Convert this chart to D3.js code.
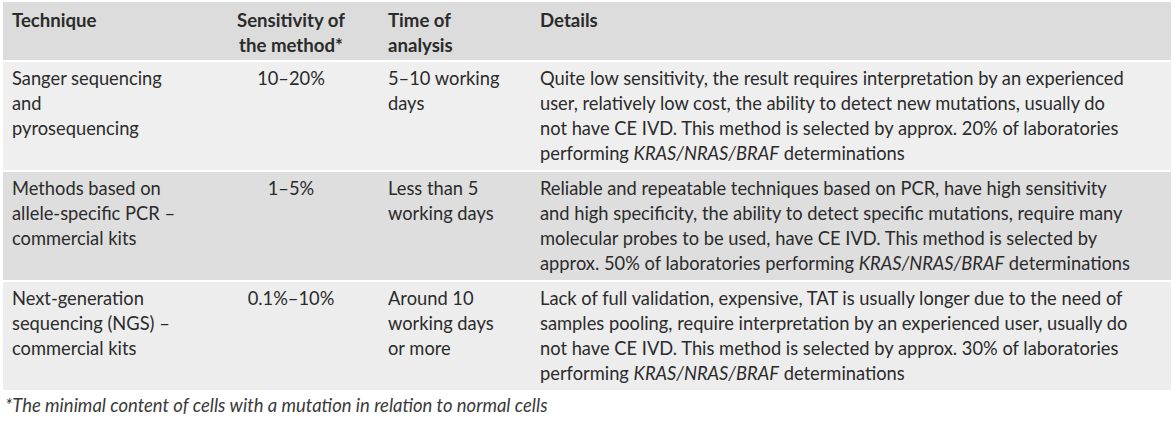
<!DOCTYPE html>
<html>
<head>
<meta charset="utf-8">
<script src="https://cdn.jsdelivr.net/npm/d3@7"></script>
<style>
body { margin: 0; background: #fff; }
text { white-space: pre; }
</style>
</head>
<body>
<div id="chart"></div>
<script>
// table content, one array per column (line breaks as in the source)
var headers = [["Technique"], ["Sensitivity of", "the method*"], ["Time of", "analysis"], ["Details"]];
var techniques = [
	["Sanger sequencing", "and", "pyrosequencing"],
	["Methods based on", "allele-specific PCR –", "commercial kits"],
	["Next-generation", "sequencing (NGS) –", "commercial kits"]
];
var sensitivity = [["10–20%"], ["1–5%"], ["0.1%–10%"]];
var timeOfAnalysis = [
	["5–10 working", "days"],
	["Less than 5", "working days"],
	["Around 10", "working days", "or more"]
];
// _..._ marks italic text
var details = [
	["Quite low sensitivity, the result requires interpretation by an experienced",
	 "user, relatively low cost, the ability to detect new mutations, usually do",
	 "not have CE IVD. This method is selected by approx. 20% of laboratories",
	 "performing _KRAS/NRAS/BRAF_ determinations"],
	["Reliable and repeatable techniques based on PCR, have high sensitivity",
	 "and high specificity, the ability to detect specific mutations, require many",
	 "molecular probes to be used, have CE IVD. This method is selected by",
	 "approx. 50% of laboratories performing _KRAS/NRAS/BRAF_ determinations"],
	["Lack of full validation, expensive, TAT is usually longer due to the need of",
	 "samples pooling, require interpretation by an experienced user, usually do",
	 "not have CE IVD. This method is selected by approx. 30% of laboratories",
	 "performing _KRAS/NRAS/BRAF_ determinations"]
];
var footnote = "*The minimal content of cells with a mutation in relation to normal cells";

var width = 1173, height = 431;
var tableLeft = 3, tableRight = 1171;
var headerTop = 2, headerH = 58, rowH = 108, gap = 2;
var lineH = 25;
var fontFamily = "Lato, 'Open Sans', sans-serif";
var textColor = "#2b2b2b";
var headerFill = "#dcdcdc";
var rowFills = ["#efefef", "#dedede", "#ededed"];

var colX = d3.scaleOrdinal().domain([0, 1, 2, 3]).range([12, 291, 388, 540]);
var colAnchor = ["start", "middle", "start", "start"];

var rowTop = d3.scaleLinear()
	.domain([0, 1])
	.range([headerTop + headerH + gap, headerTop + headerH + gap + rowH + gap]);

var svg = d3.select("#chart").append("svg")
	.attr("width", width)
	.attr("height", height)
	.style("display", "block");

// fit font size to the reference text widths
function fitSize(str, weight, style, target, base) {
	var t = svg.append("text")
		.attr("font-family", fontFamily)
		.attr("font-size", base)
		.attr("font-weight", weight)
		.attr("font-style", style)
		.text(str);
	var w = t.node().getComputedTextLength();
	t.remove();
	return base * target / w;
}
var bodySize = fitSize(details[0][0], "normal", "normal", 584, 17);
var headSize = fitSize("Sensitivity of", "bold", "normal", 108, 17);
var noteSize = fitSize(footnote, "normal", "italic", 543, 16);

function writeLines(g, lines, x, y0, anchor, size, weight) {
	lines.forEach(function(line, i) {
		var t = g.append("text")
			.attr("x", x)
			.attr("y", y0 + i * lineH)
			.attr("text-anchor", anchor)
			.attr("font-family", fontFamily)
			.attr("font-size", size)
			.attr("font-weight", weight)
			.attr("fill", textColor);
		line.split("_").forEach(function(part, j) {
			if (!part) return;
			t.append("tspan")
				.attr("font-style", j % 2 ? "italic" : "normal")
				.text(part);
		});
	});
}

// header
var head = svg.append("g").attr("class", "header");
head.append("rect")
	.attr("x", tableLeft)
	.attr("y", headerTop)
	.attr("width", tableRight - tableLeft)
	.attr("height", headerH)
	.attr("fill", headerFill);
headers.forEach(function(h, c) {
	writeLines(head, h, colX(c), headerTop + 25, colAnchor[c], headSize, "bold");
});

// body rows
var rows = techniques.map(function(t, i) {
	return [t, sensitivity[i], timeOfAnalysis[i], details[i]];
});
var rowG = svg.selectAll(".row").data(rows).enter()
	.append("g").attr("class", "row");

rowG.append("rect")
	.attr("x", tableLeft)
	.attr("y", function(d, i) { return rowTop(i); })
	.attr("width", tableRight - tableLeft)
	.attr("height", rowH)
	.attr("fill", function(d, i) { return rowFills[i]; });

rowG.each(function(d, i) {
	var g = d3.select(this);
	d.forEach(function(cell, c) {
		writeLines(g, cell, colX(c), rowTop(i) + 23, colAnchor[c], bodySize, "normal");
	});
});

// footnote
svg.append("text")
	.attr("x", 5)
	.attr("y", 412)
	.attr("font-family", fontFamily)
	.attr("font-size", noteSize)
	.attr("font-style", "italic")
	.attr("fill", "#3a3a3a")
	.text(footnote);
</script>
</body>
</html>
